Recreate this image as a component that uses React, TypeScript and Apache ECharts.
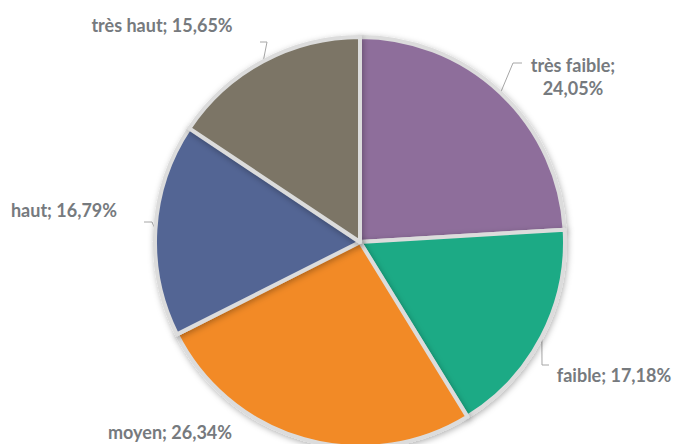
import React, { useEffect, useRef } from "react";
import * as echarts from "echarts";

const categories = ["très faible", "faible", "moyen", "haut", "très haut"];
const values = [24.05, 17.18, 26.34, 16.79, 15.65];
const colors = ["#8E6E9B", "#1BAA85", "#F28A26", "#536594", "#7B7566"];
const wrapLabel = [true, false, false, false, false];

// label anchor positions [x, y] and leader elbow positions
const labelPos: [number, number][] = [
  [573, 76],
  [614, 375],
  [170, 432],
  [64, 210],
  [162, 25],
];
const elbows: ([number, number][] | null)[] = [
  [[513, 63], [522, 63]],
  [[542, 365], [549, 365]],
  null,
  [[152, 222], [144, 222]],
  [[267, 42], [260, 42]],
];

export default function App() {
  const ref = useRef<HTMLDivElement>(null);
  useEffect(() => {
    if (!ref.current) return;
    const chart = echarts.init(ref.current, undefined, { renderer: "svg" });
    chart.setOption({
      animation: false,
      backgroundColor: "#ffffff",
      series: [
        {
          type: "pie",
          center: [360, 242],
          radius: 205,
          startAngle: 90,
          clockwise: true,
          avoidLabelOverlap: false,
          data: categories.map((c, i) => ({
            name: c,
            value: values[i],
            itemStyle: { color: colors[i] },
            labelLine: { show: elbows[i] !== null },
          })),
          itemStyle: {
            borderColor: "#dcdcdc",
            borderWidth: 4,
            shadowBlur: 6,
            shadowColor: "rgba(0,0,0,0.3)",
            shadowOffsetX: 1,
            shadowOffsetY: 2,
          },
          label: {
            show: true,
            position: "outside",
            color: "#767a7e",
            fontFamily: "Lato",
            fontWeight: "bold",
            fontSize: 18,
            lineHeight: 23,
            align: "center",
            formatter: (p: any) => {
              const v = Number(p.value).toFixed(2).replace(".", ",") + "%";
              return wrapLabel[p.dataIndex] ? `${p.name};\n${v}` : `${p.name}; ${v}`;
            },
          },
          labelLine: {
            show: true,
            lineStyle: { color: "#a6a6a6", width: 1 },
          },
          labelLayout: (params: any) => {
            const i = params.dataIndex;
            const out: any = {
              x: labelPos[i][0],
              y: labelPos[i][1],
              align: "center",
              verticalAlign: "middle",
            };
            const e = elbows[i];
            if (e && params.labelLinePoints) {
              out.labelLinePoints = [params.labelLinePoints[0], e[0], e[1]];
            }
            return out;
          },
        },
      ],
    });
    return () => chart.dispose();
  }, []);
  return (
    <div
      ref={ref}
      style={{ position: "fixed", left: 0, top: 0, width: 674, height: 444 }}
    />
  );
}
